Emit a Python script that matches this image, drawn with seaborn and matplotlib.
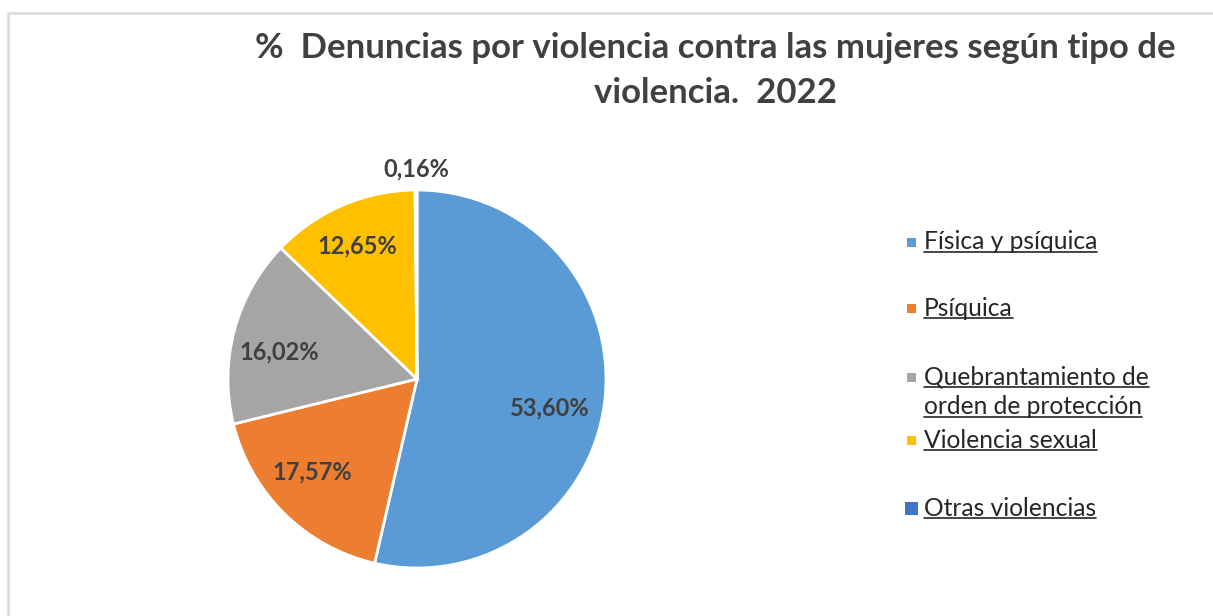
import matplotlib.pyplot as plt
import numpy as np
import seaborn as sns
from matplotlib.lines import Line2D
from matplotlib.patches import Rectangle


categories = [
    "Física y psíquica",
    "Psíquica",
    "Quebrantamiento de\norden de protección",
    "Violencia sexual",
    "Otras violencias",
]
values = [53.60, 17.57, 16.02, 12.65, 0.16]
colors = ["#5B9BD5", "#ED7D31", "#A5A5A5", "#FFC000", "#4472C4"]
title_lines = ["%  Denuncias por violencia contra las mujeres según tipo de", "violencia.  2022"]

W, H = 1213, 616
TEXT = "#404040"

sns.set_theme(style="white")
plt.rcParams["font.family"] = ["Lato", "DejaVu Sans"]

fig = plt.figure(figsize=(W / 100, H / 100), dpi=100)


def px(x, y_top):
    return x / W, 1 - y_top / H


# chart area border (only top and left edges are visible in the crop)
fig.add_artist(Line2D([8 / W, 8 / W], [0, 1 - 13 / H], color="#D9D9D9", lw=1.8))
fig.add_artist(Line2D([8 / W, 1], [1 - 13 / H, 1 - 13 / H], color="#D9D9D9", lw=1.8))

# pie
cx, cy, r = 417, 379, 189
side = 2 * r * 1.25
ax = fig.add_axes([(cx - side / 2) / W, (H - cy - side / 2) / H, side / W, side / H])
wedges, _, autotexts = ax.pie(
    values,
    colors=colors,
    startangle=90,
    counterclock=False,
    autopct=lambda p: f"{p:.2f}%".replace(".", ","),
    pctdistance=0.73,
    wedgeprops=dict(edgecolor="white", linewidth=2),
    textprops=dict(color=TEXT, fontsize=17, fontweight="bold"),
)
ax.set_xlim(-1.25, 1.25)
ax.set_ylim(-1.25, 1.25)
ax.set_aspect("equal")

# Excel-like "best fit" label placement: radial distance and angular nudge
label_dist = [0.72, 0.74, 0.74, 0.77, 1.11]
label_nudge = [-6, -4, 4, 1, 0]
for w, t, d, n in zip(wedges, autotexts, label_dist, label_nudge):
    ang = np.deg2rad((w.theta1 + w.theta2) / 2 + n)
    t.set_position((d * np.cos(ang), d * np.sin(ang)))

# title
for line, y in zip(title_lines, [48, 93]):
    fig.text(715 / W, 1 - y / H, line, ha="center", va="center", fontsize=25,
             fontweight="bold", color=TEXT)

# legend with underlined entries
rows = [[242], [308], [377, 407], [440], [508]]
sizes = [9, 9, 9, 9, 13]
texts = []
for cat, col, ys, s in zip(categories, colors, rows, sizes):
    fig.add_artist(Rectangle(px(911.5 - s / 2, ys[0] + s / 2), s / W, s / H,
                             facecolor=col, edgecolor="none"))
    for line, y in zip(cat.split("\n"), ys):
        t = fig.text(924 / W, 1 - y / H, line, ha="left", va="center",
                     fontsize=17.7, color="#262626")
        texts.append(t)

fig.canvas.draw()
renderer = fig.canvas.get_renderer()
for t in texts:
    bb = t.get_window_extent(renderer)
    yl = (bb.y0 + 1.5) / H
    fig.add_artist(Line2D([bb.x0 / W, bb.x1 / W], [yl, yl], color="#262626", lw=1.2))

fig.savefig("out.png", dpi=100)
